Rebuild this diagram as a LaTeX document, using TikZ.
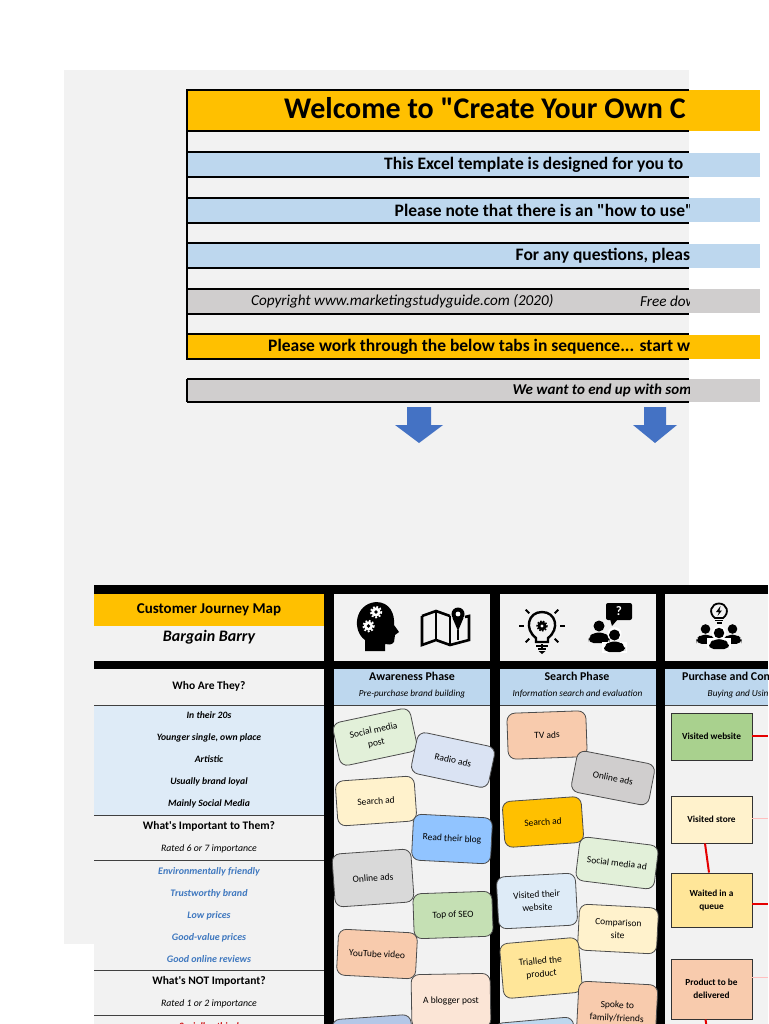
\documentclass[tikz,border=0pt]{standalone}
\usepackage{fontspec}
\setmainfont{Carlito}[Ligatures=TeXOff]
\usetikzlibrary{positioning, arrows.meta}
\definecolor{pagegrey}{HTML}{F2F2F2}
\definecolor{gold}{HTML}{FFC000}
\definecolor{skyband}{HTML}{BDD7EE}
\definecolor{paleblue}{HTML}{DEEBF7}
\definecolor{stone}{HTML}{D0CECE}
\definecolor{linkblue}{HTML}{3F78BF}
\definecolor{notegreen}{HTML}{E2F0D9}
\definecolor{notelav}{HTML}{DAE3F3}
\definecolor{notecream}{HTML}{FFF2CC}
\definecolor{noteazure}{HTML}{91C4FF}
\definecolor{notegrey}{HTML}{D9D9D9}
\definecolor{notemoss}{HTML}{C5E0B4}
\definecolor{notepeach}{HTML}{F8CBAD}
\definecolor{noteblush}{HTML}{FBE5D6}
\definecolor{notesteel}{HTML}{B4C7E7}
\definecolor{noteyellow}{HTML}{FFE699}
\definecolor{stagegreen}{HTML}{A9D18E}
\definecolor{arrowblue}{HTML}{4472C4}

\begin{document}
\begin{tikzpicture}[
    x=1pt, y=-1pt,
    band/.style={anchor=north west, minimum width=573pt, inner sep=0pt, outer sep=0pt},
    bandtext/.style={anchor=west, inner sep=0pt, font=\fontsize{17.5}{18}\selectfont\bfseries},
    cell/.style={anchor=north west, fill=pagegrey, minimum width=230pt, inner sep=0pt, outer sep=0pt, align=center, font=\fontsize{9.7}{22}\selectfont\bfseries\itshape},
    headcell/.style={anchor=north west, fill=skyband, minimum width=156pt, minimum height=36pt, inner sep=0pt, outer sep=0pt},
    phasetitle/.style={inner sep=0pt, font=\fontsize{11.9}{14}\selectfont\bfseries},
    phasesub/.style={inner sep=0pt, font=\fontsize{9.3}{12}\selectfont\itshape},
    rowline/.style={draw=black!75, line width=0.9pt},
    note/.style={draw=black!70, line width=0.8pt, rounded corners=8pt, minimum width=79pt, minimum height=46pt, inner sep=1pt, align=center, font=\fontsize{9.5}{13}\selectfont},
    stagebox/.style={draw=black!80, line width=0.9pt, minimum width=81pt, inner sep=1pt, align=center, font=\fontsize{9.3}{13}\selectfont\bfseries},
    journeylink/.style={draw=red!90!black, line width=2pt},
    faintlink/.style={draw=red!25, line width=0.5pt},
    person/.pic={
        \fill (0,0) circle (5.5);
        \fill[rounded corners=5pt] (-10.5,17) -- (-10.5,11) -- (-5,6.5) -- (5,6.5) -- (10.5,11) -- (10.5,17) -- cycle;
    },
]
    \clip (0,0) rectangle (768,1024);
    \fill[white] (0,0) rectangle (768,1024);

    % Sheet behind everything
    \fill[pagegrey] (64,70) rectangle (689,944);

    % Welcome bands
    \node[band, fill=gold, minimum height=41pt] (titleband) at (187,90) {};
    \node[band, fill=skyband, minimum height=24pt] (designband) at (187,153) {};
    \node[band, fill=skyband, minimum height=24pt] (noteband) at (187,198) {};
    \node[band, fill=skyband, minimum height=24pt] (askband) at (187,244) {};
    \node[band, fill=stone, minimum height=24pt] (copyband) at (187,289) {};
    \node[band, fill=gold, minimum height=24pt] (tabsband) at (187,335) {};
    \node[band, fill=stone, minimum height=23pt] (endband) at (187,379) {};

    \begin{scope}
        \clip (64,70) rectangle (689,944);
        % Black rules stop at the sheet edge
        \draw[line width=2.2pt] (187,90) -- (689,90);
        \draw[line width=2.2pt] (187,131) -- (689,131);
        \draw[line width=2.2pt] (187,152) -- (689,152);
        \draw[line width=2.2pt] (187,177) -- (689,177);
        \draw[line width=2.2pt] (187,198) -- (689,198);
        \draw[line width=2.2pt] (187,223) -- (689,223);
        \draw[line width=2.2pt] (187,243) -- (689,243);
        \draw[line width=2.2pt] (187,268) -- (689,268);
        \draw[line width=2.2pt] (187,289) -- (689,289);
        \draw[line width=2.2pt] (187,314) -- (689,314);
        \draw[line width=2.2pt] (187,334) -- (689,334);
        \draw[line width=2.2pt] (187,359) -- (689,359);
        \draw[line width=1.4pt] (187,379) -- (689,379);
        \draw[line width=1.4pt] (187,402) -- (689,402);
        \draw[line width=2pt] (187,89) -- (187,360);
        \draw[line width=1.4pt] (187,379) -- (187,402);

        \node[bandtext, font=\fontsize{30}{30}\selectfont\bfseries] (titletext) at (284,108.5) {Welcome to "Create Your Own C};
        \node[bandtext] (designtext) at (384,165) {This Excel template is designed for you to};
        \node[bandtext] (notetext) at (394.5,210.5) {Please note that there is an "how to use"};
        \node[bandtext] (asktext) at (515.5,256) {For any questions, pleas};
        \node[bandtext, font=\fontsize{15.2}{18}\selectfont\itshape] (copytext) at (251,301.5) {Copyright www.marketingstudyguide.com (2020)};
        \node[bandtext, font=\fontsize{15.2}{18}\selectfont\itshape] (freetext) at (640,301.5) {Free dow};
        \node[bandtext] (tabstext) at (268,347) {Please work through the below tabs in sequence... start w};
        \node[bandtext, font=\fontsize{15}{18}\selectfont\bfseries\itshape] (endtext) at (512.5,390.5) {We want to end up with som};
    \end{scope}

    % Arrows to the map
    \fill[arrowblue] (407,407) -- (431,407) -- (431,425) -- (443,425) -- (419,443) -- (395,425) -- (407,425) -- cycle;
    \fill[arrowblue] (644,407) -- (666,407) -- (666,425) -- (677,425) -- (655,443) -- (633,425) -- (644,425) -- cycle;

    % Map frame
    \fill[black] (94,585) rectangle (768,1024);

    % Persona column
    \node[cell, fill=gold, minimum height=32.5pt, font=\fontsize{15}{16}\selectfont\bfseries] (mapname) at (94,593.5) {Customer Journey Map};
    \node[cell, minimum height=35pt, font=\fontsize{16}{16}\selectfont\bfseries\itshape] (persona) at (94,626) {\raisebox{16pt}{Bargain Barry}};
    \node[cell, minimum height=36pt, font=\fontsize{11.5}{22}\selectfont\bfseries] (whotitle) at (94,669) {\raisebox{3pt}{Who Are They?}};
    \node[cell, fill=paleblue, minimum height=110pt] (whotraits) at (94,705) {In their 20s\\Younger single, own place\\Artistic\\Usually brand loyal\\Mainly Social Media};
    \node[cell, minimum height=45pt, font=\fontsize{11.5}{22}\selectfont\bfseries] (mattertitle) at (94,815) {What's Important to Them?\\{\fontsize{9.8}{22}\selectfont\mdseries\itshape Rated 6 or 7 importance}};
    \node[cell, minimum height=110pt, text=linkblue, font=\fontsize{10}{22}\selectfont\bfseries\itshape] (matterlist) at (94,860) {Environmentally friendly\\Trustworthy brand\\Low prices\\Good-value prices\\Good online reviews};
    \node[cell, minimum height=45pt, font=\fontsize{11.5}{22}\selectfont\bfseries] (nottitle) at (94,970) {What's NOT Important?\\{\fontsize{9.8}{22}\selectfont\mdseries\itshape Rated 1 or 2 importance}};
    \node[cell, minimum height=20pt, text=red!80!black] (notlist) at (94,1015) {\raisebox{-11pt}{Socially ethical}};
    \draw[rowline] (whotitle.south west) -- (whotitle.south east);
    \draw[rowline] (whotraits.south west) -- (whotraits.south east);
    \draw[rowline] (mattertitle.south west) -- (mattertitle.south east);
    \draw[rowline] (matterlist.south west) -- (matterlist.south east);
    \draw[rowline] (nottitle.south west) -- (nottitle.south east);

    % Phase columns
    \fill[pagegrey] (334,593.5) rectangle (490,661);
    \fill[pagegrey] (500,593.5) rectangle (656,661);
    \fill[pagegrey] (665,593.5) rectangle (768,661);
    \node[headcell] (awarehead) at (334,669) {};
    \node[headcell] (searchhead) at (500,669) {};
    \node[headcell, minimum width=103pt] (buyhead) at (665,669) {};
    \node[phasetitle] (awaretitle) at (412,676) {Awareness Phase};
    \node[phasesub] (awaresub) at (412,694) {Pre-purchase brand building};
    \node[phasetitle] (searchtitle) at (577,676) {Search Phase};
    \node[phasesub] (searchsub) at (577.5,694) {Information search and evaluation};
    \node[phasetitle, anchor=west] (buytitle) at (682,676) {Purchase and Con};
    \node[phasesub, anchor=west] (buysub) at (707.5,694) {Buying and Usin};
    \fill[pagegrey] (334,705) rectangle (490,1024);
    \fill[pagegrey] (500,705) rectangle (656,1024);
    \fill[pagegrey] (665,705) rectangle (768,1024);
    \draw[rowline] (334,705) -- (490,705);
    \draw[rowline] (500,705) -- (656,705);
    \draw[rowline] (665,705) -- (768,705);

    % Awareness notes
    \node[note, fill=notegreen, rotate=12, minimum height=44pt] (socialpost) at (375,737) {Social media\\post};
    \node[note, fill=notelav, rotate=-12, minimum height=42pt] (radioads) at (453,760) {Radio ads};
    \node[note, fill=notecream, rotate=4, minimum height=45pt] (searchad) at (376,801) {Search ad};
    \node[note, fill=noteazure, rotate=-3] (readblog) at (452,839) {Read their blog};
    \node[note, fill=notegrey, rotate=4, minimum height=53pt] (onlineads) at (373,878) {Online ads};
    \node[note, fill=notemoss, rotate=2, minimum height=45pt] (topseo) at (453,915) {Top of SEO};
    \node[note, fill=notepeach, rotate=-3] (youtube) at (377,954) {YouTube video};
    \node[note, fill=noteblush, rotate=1, minimum height=54pt] (blogger) at (451,1001) {A blogger post};
    \node[note, fill=notesteel, rotate=4, minimum height=54pt] (awaremore) at (373,1044) {};

    % Search notes
    \node[note, fill=notepeach, rotate=2] (tvads) at (547,735) {TV ads};
    \node[note, fill=stone, rotate=-11, minimum height=42pt] (onlineadstwo) at (613,778) {Online ads};
    \node[note, fill=gold, rotate=4] (searchadtwo) at (543,822) {Search ad};
    \node[note, fill=notegreen, rotate=-7, minimum height=44pt] (socialad) at (617,863) {Social media ad};
    \node[note, fill=paleblue, rotate=3, minimum height=52pt] (visitsite) at (537,901) {Visited their\\website};
    \node[note, fill=notecream, rotate=-3] (comparison) at (618,929) {Comparison\\site};
    \node[note, fill=noteyellow, rotate=5, minimum height=55pt] (trial) at (541,968) {Trialled the\\product};
    \node[note, fill=notepeach, rotate=-3, minimum height=58pt] (spoke) at (617,1012) {Spoke to\\family/friends};
    \node[note, fill=skyband, rotate=5, minimum height=80pt] (searchmore) at (537,1060) {};

    % Purchase steps
    \node[stagebox, fill=stagegreen, minimum height=47pt] (visitweb) at (711.5,736.5) {Visited website};
    \node[stagebox, fill=notecream, minimum height=47pt] (visitstore) at (711.5,819.5) {Visited store};
    \node[stagebox, fill=noteyellow, minimum height=54pt] (queue) at (711.5,900) {Waited in a\\queue};
    \node[stagebox, fill=notepeach, minimum height=60pt] (delivered) at (711.5,989) {Product to be\\delivered};

    \coordinate (webexit) at (768,735.5);
    \coordinate (storeexit) at (768,818);
    \coordinate (queueexit) at (768,904);
    \coordinate (deliveredexit) at (768,977);
    \coordinate (deliveredout) at (706.5,1026);
    \draw[journeylink] (visitweb.east |- webexit) -- (webexit);
    \draw[faintlink] (visitstore.east |- storeexit) -- (storeexit);
    \draw[journeylink] (visitstore.south -| 705,0) -- (queue.north -| 709,0);
    \draw[journeylink] (queue.east |- queueexit) -- (queueexit);
    \draw[faintlink] (delivered.east |- deliveredexit) -- (deliveredexit);
    \draw[journeylink] (delivered.south -| 705.5,0) -- (deliveredout);

    % Head with gears
    \fill (365,651) -- (365,640) .. controls (352,631) and (354,604) .. (376,602) .. controls (390,602) and (395,614) .. (394,625) -- (399,632) -- (395,635) -- (394,642) .. controls (392,645) and (388,645) .. (385,644) -- (385,651) -- cycle;
    \foreach \gearx/\geary in {376/612, 368.5/626} {
        \fill[white] (\gearx,\geary) circle (4.6);
        \draw[white, line width=1.8pt, dash pattern=on 1.8pt off 1.8pt] (\gearx,\geary) circle (5.4);
        \fill (\gearx,\geary) circle (1.8);
    }

    % Folded map with pin
    \draw[line width=2.6pt, line join=miter] (422,616) -- (436,611) -- (450,616);
    \draw[line width=2.6pt, line join=miter] (422,616) -- (422,645) -- (436,640) -- (450,645) -- (469,640) -- (469,616) -- (465,617);
    \draw[line width=2.6pt] (436,611) -- (436,640);
    \draw[line width=2.6pt] (450,616) -- (450,645);
    \draw[line width=2.6pt] (458,630) -- (458,640);
    \fill (458,614) circle (6.5);
    \fill (452.5,618) -- (458,631) -- (463.5,618) -- cycle;
    \fill[white] (458,614) circle (2.4);

    % Bulb with gear
    \draw[line width=2.4pt] (536,638) .. controls (524,629) and (528,612) .. (542,612) .. controls (556,612) and (560,629) .. (548,638) -- (548,642) -- (536,642) -- cycle;
    \fill (542,626) circle (4.6);
    \draw[line width=1.5pt, dash pattern=on 1.5pt off 1.5pt] (542,626) circle (5);
    \fill[white] (542,626) circle (1.7);
    \draw[line width=2pt] (536,645.5) -- (548,645.5);
    \draw[line width=2pt] (538,649) -- (546,649);
    \fill (538.5,651) -- (545.5,651) -- (542,654) -- cycle;
    \foreach \rayangle in {0, 45, 90, 135, 180, 225, 315} {
        \draw[line width=2pt] (542,626) ++(\rayangle:18) -- ++(\rayangle:5);
    }

    % Two people and question
    \fill[rounded corners=2pt] (606,603) rectangle (632,620);
    \fill (610,619) -- (612,626) -- (618,619) -- cycle;
    \node[text=white, inner sep=0pt, font=\fontsize{13}{13}\selectfont\bfseries] (askmark) at (619,611.5) {?};
    \pic at (599,626) {person};
    \fill[white] (614.5,634) circle (7);
    \fill[white] (602,642) rectangle (627,653);
    \pic at (614.5,635) {person};

    % Bulb above three people
    \draw[line width=1.8pt] (715,618) .. controls (708,613) and (711,603.5) .. (719,603.5) .. controls (727,603.5) and (730,613) .. (723,618) -- cycle;
    \fill (720.5,606) -- (716,612) -- (719,612) -- (717.5,616) -- (722,610.5) -- (719.5,610.5) -- cycle;
    \draw[line width=1.4pt] (715,620.5) -- (723,620.5);
    \draw[line width=1.4pt] (716.5,623) -- (721.5,623);
    \pic[scale=0.87] at (705.5,629) {person};
    \pic[scale=0.87] at (732.5,629) {person};
    \fill[white] (719,633) circle (7);
    \fill[white] (707,638) rectangle (731,649);
    \pic[scale=0.95] at (719,633) {person};
\end{tikzpicture}
\end{document}
